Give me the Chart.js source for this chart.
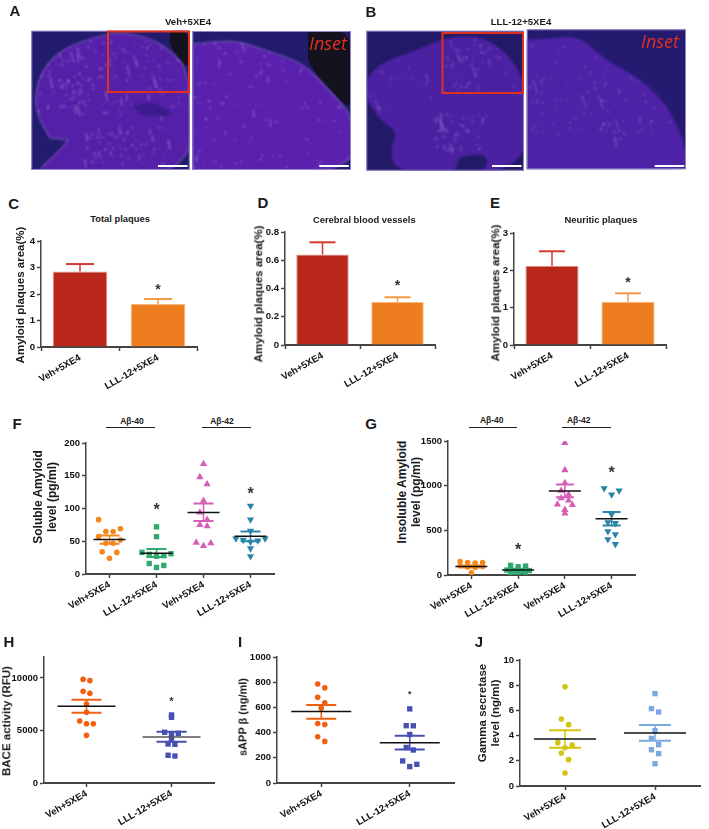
<!DOCTYPE html>
<html>
<head>
<meta charset="utf-8">
<title>Amyloid panels</title>
<script src="https://cdn.jsdelivr.net/npm/chart.js@4/dist/chart.umd.min.js"></script>
<style>
body { margin: 0; background: #fff; }
#page { position: relative; width: 709px; height: 829px; overflow: hidden; }
#page canvas { position: absolute; }
.txt { position: absolute; white-space: nowrap; color: #1a1a1a; font-family: "Liberation Sans", Arial, sans-serif; font-weight: bold; transform: translate(-50%, -50%); line-height: 1; }
.rule { position: absolute; height: 1px; background: #222; }
</style>
</head>
<body>
<div id="page">
<canvas id="photos" width="709" height="180" style="left:0;top:0"></canvas>
</div>
<script>
var groupLabels = ["Veh+5XE4", "LLL-12+5XE4"];
var fourLabels = ["Veh+5XE4", "LLL-12+5XE4", "Veh+5XE4", "LLL-12+5XE4"];

// y tick values
var cTicks = [0, 1, 2, 3, 4];
var dTicks = [0, 0.2, 0.4, 0.6, 0.8];
var eTicks = [0, 1, 2, 3];
var fTicks = [0, 50, 100, 150, 200];
var gTicks = [0, 500, 1000, 1500];
var hTicks = [0, 5000, 10000];
var iTicks = [0, 200, 400, 600, 800, 1000];
var jTicks = [0, 2, 4, 6, 8, 10];

// C, D, E bars: mean and top of the error bar
var cMeans = [2.85, 1.62];
var cHigh = [3.13, 1.81];
var dMeans = [0.64, 0.305];
var dHigh = [0.727, 0.338];
var eMeans = [2.12, 1.16];
var eHigh = [2.51, 1.384];

// F soluble
var fOrange = [83, 69, 65, 65, 57, 52, 47, 47, 34, 33, 24];
var fGreen = [72, 57, 33, 31, 30, 28, 27, 16, 13, 10];
var fPink = [168, 148, 137, 112, 94, 83, 75, 73, 48, 47, 43];
var fTeal = [104, 83, 66, 54, 54, 52, 51, 49, 39, 27];
var fMeans = [52.5, 31.8, 94, 57.6];
var fLow = [46, 26, 81, 50];
var fHigh = [58.6, 38, 107.5, 65];

// G insoluble
var gOrange = [150, 140, 140, 135, 100, 95, 90, 85, 26];
var gGreen = [108, 100, 93, 55, 50, 45, 40, 26, 20, 8];
var gPink = [1480, 1175, 1030, 945, 900, 860, 835, 790, 785, 730, 690];
var gTeal = [970, 945, 900, 680, 590, 580, 490, 455, 400, 345];
var gMeans = [96, 56, 940, 631];
var gLow = [85, 42, 869, 553];
var gHigh = [107, 70, 1013, 705];

// H BACE
var hVeh = [9870, 9750, 8730, 8540, 7520, 6730, 5900, 5650, 5650, 4540];
var hLll = [6480, 6255, 4830, 4730, 4640, 4200, 3720, 3680, 2640, 2570];
var hMeans = [7300, 4380];
var hLow = [6700, 3940];
var hHigh = [7940, 4890];

// I sAPP
var iVeh = [785, 755, 680, 636, 594, 472, 464, 367, 330];
var iLll = [588, 455, 454, 385, 282, 262, 175, 148, 130];
var iMeans = [567, 319];
var iLow = [509, 266];
var iHigh = [620, 375];

// J gamma secretase
var jVeh = [7.88, 5.32, 4.87, 3.44, 3.25, 3.04, 2.62, 2.09, 1.03];
var jLll = [7.33, 6.14, 5.87, 4.39, 3.78, 3.28, 2.88, 2.57, 1.77];
var jMeans = [3.73, 4.2];
var jLow = [3.04, 3.6];
var jHigh = [4.42, 4.84];

// asterisks, by value on each panel's y axis
var cStars = [null, 2.27];
var dStars = [null, 0.436];
var eStars = [null, 1.74];
var fStars = [null, 102, null, 126];
var gStars = [null, 304, null, 1170];
var hStars = [null, 7940];
var iStars = [null, 715];

var page = document.getElementById('page');
var FONT = '"Liberation Sans", Arial, sans-serif';
var AXIS = '#444';

function addText(text, x, y, size, rot, extra) {
	var d = document.createElement('div');
	d.className = 'txt';
	d.textContent = text;
	d.style.left = x + 'px';
	d.style.top = y + 'px';
	d.style.fontSize = size + 'px';
	if (rot) { d.style.transform = 'translate(-50%, -50%) rotate(' + rot + 'deg)'; }
	if (extra) { d.style.cssText += extra; }
	page.appendChild(d);
}

function addRule(x0, x1, y) {
	var d = document.createElement('div');
	d.className = 'rule';
	d.style.left = x0 + 'px';
	d.style.width = (x1 - x0) + 'px';
	d.style.top = y + 'px';
	page.appendChild(d);
}

// error bars, mean lines and asterisks, placed with the chart's own scales
var semPlugin = {
	id: 'sem',
	afterDatasetsDraw: function (chart, args, o) {
		var ctx = chart.ctx, sx = chart.scales.x, sy = chart.scales.y;
		ctx.save();
		for (var i = 0; i < o.means.length; i++) {
			var x = sx.getPixelForTick(i);
			var yHi = sy.getPixelForValue(o.high[i]);
			var yMean = sy.getPixelForValue(o.means[i]);
			var yLo = o.low ? sy.getPixelForValue(o.low[i]) : yMean;
			ctx.strokeStyle = o.colors[i];
			ctx.lineWidth = 1.5;
			ctx.beginPath(); ctx.moveTo(x, yHi); ctx.lineTo(x, yLo); ctx.stroke();
			ctx.lineWidth = o.capWeight;
			ctx.beginPath();
			ctx.moveTo(x - o.capHalf, yHi); ctx.lineTo(x + o.capHalf, yHi);
			if (o.low) { ctx.moveTo(x - o.capHalf, yLo); ctx.lineTo(x + o.capHalf, yLo); }
			ctx.stroke();
			if (o.lineHalf) {
				ctx.strokeStyle = o.lineColors ? o.lineColors[i] : '#111';
				ctx.lineWidth = 1.5;
				ctx.beginPath(); ctx.moveTo(x - o.lineHalf, yMean); ctx.lineTo(x + o.lineHalf, yMean); ctx.stroke();
			}
			if (o.stars[i] !== null) {
				ctx.fillStyle = '#333';
				ctx.font = 'bold ' + o.starSize + 'px ' + FONT;
				ctx.textAlign = 'center';
				ctx.textBaseline = 'middle';
				ctx.fillText('*', x, sy.getPixelForValue(o.stars[i]) + o.starSize * 0.2);
			}
		}
		ctx.restore();
	}
};

function axisOptions(yMax, yTicks, tickSize) {
	var font = { family: FONT, weight: 'bold', size: tickSize };
	return {
		y: {
			min: 0, max: yMax,
			grid: { drawOnChartArea: false, tickLength: 4, tickColor: AXIS, tickWidth: 1.5 },
			border: { color: AXIS, width: 1.5 },
			afterBuildTicks: function (s) {
				s.ticks = yTicks.map(function (v) { return { value: v }; });
			},
			ticks: {
				padding: 2, color: '#111', font: font,
				callback: function (v) { return String(+v.toFixed(1)); }
			},
			afterFit: function (s) { s.width = 38; }
		},
		x: {
			grid: { drawOnChartArea: false, tickLength: 4, tickColor: AXIS, tickWidth: 1.5 },
			border: { color: AXIS, width: 2 },
			ticks: { minRotation: 30, maxRotation: 30, autoSkip: false, padding: 1, color: '#111', font: { family: FONT, weight: 'bold', size: 9.6 } },
			afterFit: function (s) { s.height = 52; }
		}
	};
}

// box is the plot area in page pixels
function makeChart(box, config) {
	var c = document.createElement('canvas');
	var w = box.right - box.left + 38 + 4, h = box.bottom - box.top + 8 + 52;
	c.width = w; c.height = h;
	c.style.left = (box.left - 38) + 'px';
	c.style.top = (box.top - 8) + 'px';
	page.appendChild(c);
	config.options.responsive = false;
	config.options.animation = false;
	config.options.layout = { autoPadding: false, padding: { top: 8, right: 4, left: 0, bottom: 0 } };
	config.plugins = [semPlugin];
	return new Chart(c, config);
}

function barPanel(box, means, high, stars, yMax, yTicks, capHalf) {
	var scales = axisOptions(yMax, yTicks, 9.6);
	scales.x.type = 'category';
	makeChart(box, {
		type: 'bar',
		data: {
			labels: groupLabels,
			datasets: [{
				data: means,
				backgroundColor: ['#b8271a', '#ee7d20'],
				borderColor: ['#e59a8e', '#f7b67e'],
				borderWidth: 1,
				categoryPercentage: 1,
				barPercentage: 0.7
			}]
		},
		options: {
			scales: scales,
			plugins: {
				legend: { display: false },
				tooltip: { enabled: false },
				sem: { means: means, high: high, colors: ['#cf3b30', '#f39a4a'], capHalf: capHalf, capWeight: 2, stars: stars, starSize: 14 }
			}
		}
	});
}

// Prism style column scatter: values close together spread sideways, the rest stay centred
function swarm(values, binH, step) {
	var out = [], i = 0;
	while (i < values.length) {
		var j = i;
		while (j + 1 < values.length && values[i] - values[j + 1] <= binH) { j++; }
		var n = j - i + 1, slots = [];
		for (var k = 0; k < n; k++) { slots.push(k - (n - 1) / 2); }
		slots.sort(function (a, b) { return Math.abs(b) - Math.abs(a) || a - b; });
		for (k = 0; k < n; k++) { out.push({ x: slots[k] * step, y: values[i + k] }); }
		i = j + 1;
	}
	return out;
}

function scatterPanel(box, labels, groups, yMax, yTicks, sem) {
	var scales = axisOptions(yMax, yTicks, 9.5);
	scales.x.type = 'linear';
	scales.x.min = 0;
	scales.x.max = labels.length;
	scales.x.afterBuildTicks = function (s) {
		s.ticks = labels.map(function (l, i) { return { value: i + 0.5 }; });
	};
	scales.x.ticks.callback = function (v, i) { return labels[i]; };
	sem.colors = groups.map(function (g) { return g.color; });
	makeChart(box, {
		type: 'scatter',
		data: {
			datasets: groups.map(function (g, i) {
				return {
					data: swarm(g.values, g.bin, sem.step).map(function (p) { return { x: i + 0.5 + p.x, y: p.y }; }),
					backgroundColor: g.color,
					borderWidth: 0,
					pointStyle: g.style || 'circle',
					pointRotation: g.rot || 0,
					pointRadius: g.radius || 2.8
				};
			})
		},
		options: {
			scales: scales,
			plugins: { legend: { display: false }, tooltip: { enabled: false }, sem: sem }
		}
	});
}

barPanel({ left: 41, right: 197, top: 240.7, bottom: 347.3 }, cMeans, cHigh, cStars, 4, cTicks, 14);
barPanel({ left: 285, right: 435.7, top: 232.3, bottom: 346 }, dMeans, dHigh, dStars, 0.8, dTicks, 13);
barPanel({ left: 514, right: 666.3, top: 233.3, bottom: 345.3 }, eMeans, eHigh, eStars, 3, eTicks, 13);

var ORANGE = '#f5871f', GREEN = '#2fa96e', PINK = '#d65cb5', TEAL = '#2a85a8';
var RED_ORANGE = '#f2600f', BLUE = '#4650b0', YELLOW = '#d3c40e', SKY = '#7ca8e0';

scatterPanel({ left: 85.7, right: 274.3, top: 443.3, bottom: 575.3 }, fourLabels, [
	{ values: fOrange, bin: 20, color: ORANGE },
	{ values: fGreen, bin: 8, color: GREEN, style: 'rect', radius: 3.8 },
	{ values: fPink, bin: 12, color: PINK, style: 'triangle', radius: 4.2 },
	{ values: fTeal, bin: 8, color: TEAL, style: 'triangle', rot: 180, radius: 4.2 }
], 200, fTicks, { means: fMeans, low: fLow, high: fHigh, stars: fStars, step: 0.155, capHalf: 10, capWeight: 2, lineHalf: 16, starSize: 16 });

scatterPanel({ left: 448, right: 635.3, top: 441, bottom: 575.7 }, fourLabels, [
	{ values: gOrange, bin: 30, color: ORANGE },
	{ values: gGreen, bin: 20, color: GREEN, style: 'rect', radius: 3.8 },
	{ values: gPink, bin: 60, color: PINK, style: 'triangle', radius: 4.2 },
	{ values: gTeal, bin: 75, color: TEAL, style: 'triangle', rot: 180, radius: 4.2 }
], 1500, gTicks, { means: gMeans, low: gLow, high: gHigh, stars: gStars, step: 0.16, capHalf: 9, capWeight: 2, lineHalf: 16, starSize: 16 });

scatterPanel({ left: 44.3, right: 215, top: 657, bottom: 783 }, groupLabels, [
	{ values: hVeh, bin: 400, color: RED_ORANGE },
	{ values: hLll, bin: 200, color: BLUE, style: 'rect', radius: 3.8 }
], 12000, hTicks, { means: hMeans, low: hLow, high: hHigh, stars: hStars, step: 0.08, capHalf: 15, capWeight: 2, lineHalf: 29, lineColors: ['#111', '#555'], starSize: 11 });

scatterPanel({ left: 277.3, right: 455, top: 656.7, bottom: 783 }, groupLabels, [
	{ values: iVeh, bin: 45, color: RED_ORANGE },
	{ values: iLll, bin: 50, color: BLUE, style: 'rect', radius: 3.8 }
], 1000, iTicks, { means: iMeans, low: iLow, high: iHigh, stars: iStars, step: 0.08, capHalf: 15, capWeight: 2, lineHalf: 30, starSize: 9 });

scatterPanel({ left: 520, right: 700.7, top: 659.7, bottom: 785.7 }, groupLabels, [
	{ values: jVeh, bin: 0.55, color: YELLOW },
	{ values: jLll, bin: 0.55, color: SKY, style: 'rect', radius: 3.8 }
], 10, jTicks, { means: jMeans, low: jLow, high: jHigh, stars: [null, null], step: 0.08, capHalf: 16, capWeight: 2, lineHalf: 31, starSize: 9 });

// panel letters
[['A', 15, 9.5], ['B', 371, 10.5], ['C', 13.7, 202.7], ['D', 263, 202], ['E', 495, 202],
 ['F', 17, 423], ['G', 371, 423], ['H', 9, 641], ['I', 240, 641], ['J', 479, 641]].forEach(function (l) {
	addText(l[0], l[1], l[2], 15, 0);
});

// panel headings
addText('Veh+5XE4', 188, 22, 9.6);
addText('LLL-12+5XE4', 521, 22, 9.6);
addText('Total plaques', 120, 219, 9.4);
addText('Cerebral blood vessels', 364.3, 220, 9.4);
addText('Neuritic plaques', 601, 220, 9.4);
addText('A\u03b2-40', 132, 421, 8.5);
addText('A\u03b2-42', 222, 421, 8.5);
addText('A\u03b2-40', 491.7, 420, 8.5);
addText('A\u03b2-42', 578.7, 420, 8.5);
addRule(106, 155, 427);
addRule(201.7, 250.7, 427);
addRule(468.7, 517.3, 427);
addRule(562.3, 611.3, 427);

// y axis titles
addText('Amyloid plaques area(%)', 21, 295, 11.5, -90);
addText('Amyloid plaques area(%)', 259, 294, 11.5, -90);
addText('Amyloid plaques area(%)', 496, 293, 11.5, -90);
addText('Soluble Amyloid', 37.7, 497, 12, -90);
addText('level (pg/ml)', 51.7, 497, 12, -90);
addText('Insoluble Amyloid', 402, 491.7, 12, -90);
addText('level (pg/ml)', 416, 491.7, 12, -90);
addText('BACE activity (RFU)', 6.7, 720.7, 11.5, -90);
addText('sAPP \u03b2 (ng/ml)', 243, 717, 11, -90);
addText('Gamma secretase', 483, 713, 11.5, -90);
addText('level (ng/ml)', 496, 713, 11.5, -90);

// the four micrographs are a backdrop, not data: hand-sketched outlines with hashed specks
var ph = document.getElementById('photos').getContext('2d');

function outline(pts) {
	ph.beginPath();
	ph.moveTo(pts[0][0], pts[0][1]);
	for (var i = 1; i < pts.length; i++) {
		var mx = (pts[i - 1][0] + pts[i][0]) / 2, my = (pts[i - 1][1] + pts[i][1]) / 2;
		ph.quadraticCurveTo(pts[i - 1][0], pts[i - 1][1], mx, my);
	}
	ph.lineTo(pts[pts.length - 1][0], pts[pts.length - 1][1]);
	ph.closePath();
}

function hash(n) {
	var s = Math.sin(n * 12.9898) * 43758.5453;
	return s - Math.floor(s);
}

function specks(r, n, seed, alpha) {
	ph.fillStyle = ph.strokeStyle = 'rgba(190,165,238,' + alpha + ')';
	for (var i = 1; i <= n; i++) {
		var a = hash(i + seed), b = hash(i * 1.7 + seed + 31), c = hash(i * 2.3 + seed + 77);
		var x = r[0] + a * (r[2] - r[0]), y = r[1] + b * (r[3] - r[1]);
		if (i % 9 === 0) {
			ph.lineWidth = 1;
			ph.beginPath();
			ph.moveTo(x, y);
			ph.lineTo(x + (c - 0.4) * 8, y + 4 + c * 9);
			ph.stroke();
		} else {
			ph.beginPath();
			ph.arc(x, y, 0.5 + c * 0.6, 0, Math.PI * 2);
			ph.fill();
		}
	}
}

function photo(p) {
	ph.save();
	ph.beginPath();
	ph.rect(p.x0, p.y0, p.x1 - p.x0, p.y1 - p.y0);
	ph.clip();
	ph.fillStyle = p.back;
	ph.fillRect(p.x0, p.y0, p.x1 - p.x0, p.y1 - p.y0);
	if (p.black) { outline(p.black); ph.fillStyle = '#14121f'; ph.fill(); }
	ph.filter = 'blur(0.8px)';
	outline(p.tissue);
	ph.fillStyle = p.color;
	ph.fill();
	if (p.rim) {
		ph.strokeStyle = 'rgba(190,160,240,0.45)';
		ph.lineWidth = 1.2;
		ph.stroke();
	}
	ph.save();
	ph.clip();
	p.boxes.forEach(function (b) { specks(b, b[4], b[5], b[6]); });
	ph.restore();
	(p.dark || []).forEach(function (d) { outline(d); ph.fillStyle = p.darkColor || p.back; ph.fill(); });
	ph.filter = 'none';
	ph.restore();
	ph.strokeStyle = '#8f84c8';
	ph.lineWidth = 1;
	ph.strokeRect(p.x0 + 0.5, p.y0 + 0.5, p.x1 - p.x0 - 1, p.y1 - p.y0 - 1);
	ph.fillStyle = '#fff';
	ph.fillRect(p.bar, 165, 29.5, 2);
}

photo({
	x0: 31.3, y0: 30.7, x1: 189.7, y1: 170, back: '#221b6e', color: '#5520a8', rim: true, bar: 158,
	black: [[170, 30], [190, 30], [190, 71], [176, 55], [170, 44]],
	tissue: [[50, 138], [37, 115], [35, 95], [42, 70], [63, 48], [100, 36], [120, 32], [150, 38], [170, 50], [190, 72], [195, 180], [28, 180], [60, 150], [68, 140]],
	dark: [[[133, 106], [150, 101], [165, 108], [175, 116], [150, 116], [140, 114]]],
	darkColor: '#3a1c8c',
	boxes: [[36, 40, 189, 115, 170, 3, 0.6], [85, 125, 170, 165, 70, 9, 0.55], [60, 78, 90, 108, 30, 17, 0.7]]
});
photo({
	x0: 192.3, y0: 31, x1: 351, y1: 170, back: '#221b6e', color: '#5a21ae', rim: true, bar: 319.3,
	black: [[308, 28], [354, 28], [354, 113], [335, 95], [318, 78], [308, 60]],
	tissue: [[190, 44], [235, 40], [265, 50], [300, 62], [318, 78], [335, 97], [354, 118], [354, 175], [190, 175]],
	boxes: [[192, 38, 351, 170, 130, 23, 0.6]]
});
photo({
	x0: 366.3, y0: 30.7, x1: 524, y1: 170.7, back: '#221a66', color: '#4b21a2', rim: false, bar: 492,
	tissue: [[366, 80], [380, 63], [417, 50], [444, 38], [477, 35], [500, 47], [520, 70], [526, 95], [526, 175], [396, 175], [390, 148], [398, 133], [380, 120], [367, 100]],
	dark: [[[460, 157], [487, 153], [487, 172], [454, 172]]],
	boxes: [[445, 40, 520, 90, 60, 31, 0.45], [435, 112, 490, 150, 50, 37, 0.6], [370, 60, 440, 110, 25, 43, 0.35]]
});
photo({
	x0: 526.7, y0: 29.3, x1: 686, y1: 169.3, back: '#241b70', color: '#4d22a6', rim: false, bar: 654.7,
	tissue: [[524, 40], [555, 38], [580, 36], [605, 60], [640, 78], [670, 108], [686, 148], [690, 175], [524, 175]],
	boxes: [[530, 45, 680, 135, 130, 53, 0.42], [600, 120, 640, 140, 15, 61, 0.6]]
});

ph.strokeStyle = '#e0301e';
ph.lineWidth = 2;
ph.strokeRect(108, 31.5, 81, 60.5);
ph.strokeRect(442.5, 33, 80.5, 60);

addText('Inset', 328, 43, 18, 0, 'font-family:"Open Sans",sans-serif;font-style:italic;font-weight:normal;color:#e0301e');
addText('Inset', 660, 41, 18, 0, 'font-family:"Open Sans",sans-serif;font-style:italic;font-weight:normal;color:#e0301e');
</script>
</body>
</html>
